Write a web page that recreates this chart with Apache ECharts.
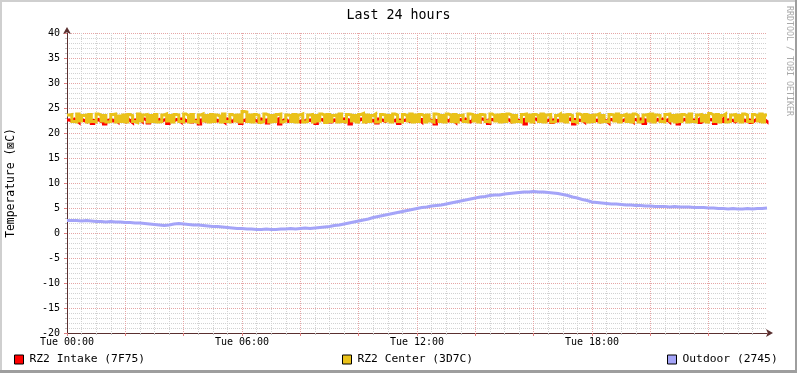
<!DOCTYPE html>
<html>
<head>
<meta charset="utf-8">
<script src="https://cdn.jsdelivr.net/npm/echarts@6/dist/echarts.min.js"></script>
<style>
html,body{margin:0;padding:0;background:#fff;}
#c{width:797px;height:373px;}
</style>
</head>
<body>
<div id="c"></div>
<script>
// RZ2 sensors: 5-minute samples, outdoor: 10-minute samples, 00:00 .. 24:00
const tempStepHours = 1 / 12;
const outdoorStepHours = 1 / 6;
const xTickLabels = ['Tue 00:00', 'Tue 06:00', 'Tue 12:00', 'Tue 18:00'];
const seriesNames = ['RZ2 Intake (7F75)', 'RZ2 Center (3D7C)', 'Outdoor (2745)'];

const intake = [
  22.6,22.4,22.8,22.5,22.1,22.7,22.5,22.3,22.8,22.6,21.9,22.5,
  22.7,22.3,22.6,21.8,22.5,22.8,22.4,22.6,22.2,22.7,22.5,22.3,
  22.8,22.5,22.1,22.6,22.4,22.7,22.3,22.8,22.5,22.0,22.6,22.4,
  22.5,22.7,22.3,22.6,22.8,21.9,22.5,22.4,22.7,22.6,22.2,22.8,
  22.4,22.6,22.8,22.2,22.5,22.7,21.8,22.6,22.4,22.8,22.5,22.3,
  22.7,22.4,22.6,22.5,22.1,22.8,22.6,22.3,22.7,22.4,22.6,21.9,
  22.5,22.8,22.3,22.6,22.7,22.4,22.2,22.8,22.5,22.6,22.0,22.7,
  22.4,22.6,22.8,21.8,22.5,22.7,22.3,22.6,22.4,22.8,22.5,22.2,
  22.6,22.3,22.7,22.5,22.8,22.4,21.9,22.6,22.7,22.3,22.5,22.8,
  22.2,22.6,22.4,22.7,22.5,22.3,22.8,22.6,21.8,22.5,22.7,22.4,
  22.8,22.5,22.2,22.6,22.7,22.4,22.6,22.0,22.8,22.5,22.3,22.7,
  22.5,22.7,22.4,22.8,21.9,22.6,22.5,22.7,22.3,22.6,22.8,22.4,
  22.6,22.2,22.7,22.5,22.8,22.4,22.6,21.8,22.5,22.7,22.3,22.6,
  22.4,22.8,22.5,22.1,22.6,22.7,22.4,22.8,22.5,22.2,22.6,22.7,
  22.5,22.3,22.8,22.6,22.4,21.9,22.7,22.5,22.6,22.8,22.3,22.5,
  22.7,22.6,22.2,22.5,22.8,22.4,22.6,22.7,21.8,22.5,22.6,22.3,
  22.8,22.4,22.6,22.7,22.3,22.5,22.8,22.1,22.6,22.4,22.7,22.5,
  22.3,22.6,22.8,22.4,21.8,22.7,22.5,22.6,22.2,22.8,22.4,22.6,
  22.7,22.5,22.3,22.8,22.6,22.4,22.0,22.7,22.5,22.6,22.8,22.3,
  22.5,22.8,22.4,22.6,22.2,22.7,22.5,22.3,22.8,21.9,22.6,22.4,
  22.6,22.3,22.7,22.5,22.8,22.4,22.6,22.2,22.7,22.5,22.3,21.8,
  22.4,22.7,22.5,22.8,22.3,22.6,22.4,22.7,22.1,22.5,22.8,22.6,
  22.7,22.5,21.9,22.6,22.4,22.8,22.3,22.6,22.7,22.5,22.2,22.6,
  22.5,22.8,22.4,22.7,22.6,22.1,22.5,22.8,22.4,22.6,22.7,22.3,
  22.5
];

const center = [
  23.6,23.7,22.3,22.2,23.8,22.4,23.5,23.6,22.2,23.7,22.3,22.2,
  23.8,23.6,22.4,23.5,22.2,22.3,23.7,23.8,22.2,23.4,22.3,23.6,
  22.2,23.7,23.5,22.3,22.1,23.8,22.4,23.6,23.7,22.2,23.5,22.3,
  23.7,22.2,22.3,23.6,23.8,22.4,23.5,22.2,23.7,23.6,22.3,22.2,
  23.8,23.5,22.2,23.7,22.3,22.1,23.6,23.8,22.4,23.5,22.2,23.7,
  22.3,23.6,23.4,22.2,23.8,22.3,22.2,23.7,23.5,22.4,23.6,22.2,
  24.3,24.2,22.3,23.6,22.2,23.7,23.5,22.1,22.3,23.8,23.6,22.2,
  23.5,22.3,23.7,23.8,22.2,22.4,23.6,23.5,22.3,23.7,22.2,23.6,
  23.8,22.2,22.3,23.6,23.7,22.2,23.5,22.4,23.8,23.6,22.1,23.7,
  22.3,23.5,23.6,22.2,23.8,22.3,22.2,23.7,23.6,22.4,23.5,22.2,
  23.7,23.9,22.2,23.6,22.3,23.5,23.8,22.2,22.3,23.7,23.6,22.4,
  23.5,22.2,23.8,23.6,22.3,22.2,23.7,23.5,22.4,23.8,22.2,23.6,
  22.3,23.7,23.5,22.2,23.6,22.4,22.2,23.8,23.7,22.3,23.5,22.2,
  23.8,23.6,22.3,23.7,22.2,23.5,23.6,22.3,22.2,23.8,23.7,22.4,
  23.5,22.2,23.7,23.6,22.3,22.2,23.8,23.5,22.4,23.6,22.2,23.7,
  22.3,23.8,23.6,22.2,23.5,22.3,22.2,23.7,23.8,22.4,23.6,22.2,
  23.7,23.5,22.3,23.8,22.2,23.6,23.7,22.2,22.3,23.5,23.8,22.4,
  23.6,22.2,23.7,23.5,22.3,22.1,23.8,23.6,22.4,23.7,22.2,23.5,
  22.3,23.6,23.8,22.2,23.5,22.3,22.2,23.7,23.6,22.4,23.8,22.2,
  23.5,23.7,22.3,23.6,22.2,23.8,23.5,22.2,22.3,23.6,23.7,22.4,
  23.8,22.2,23.6,23.5,22.3,22.2,23.7,23.8,22.4,23.5,22.2,23.6,
  22.3,23.7,23.5,22.2,23.8,22.3,22.2,23.6,23.7,22.4,23.5,22.2,
  23.9,23.6,22.3,23.7,22.2,23.5,23.8,22.2,22.3,23.6,23.7,22.4,
  23.5,22.2,23.8,23.6,22.3,22.2,23.7,23.5,22.4,23.8,22.2,23.6,
  23.7
];

const outdoor = [
  2.5,2.5,2.4,2.5,2.4,2.3, 2.3,2.2,2.3,2.2,2.2,2.1,
  2.1,2.0,2.0,1.9,1.8,1.7, 1.6,1.5,1.6,1.8,1.9,1.8,
  1.7,1.6,1.6,1.5,1.4,1.3, 1.3,1.2,1.1,1.0,0.9,0.9,
  0.8,0.8,0.7,0.7,0.8,0.7, 0.7,0.8,0.8,0.9,0.8,0.9,
  1.0,0.9,1.0,1.1,1.2,1.3, 1.5,1.6,1.8,2.0,2.2,2.4,
  2.6,2.8,3.1,3.3,3.5,3.7, 3.9,4.1,4.3,4.5,4.7,4.9,
  5.1,5.2,5.4,5.5,5.6,5.8, 6.0,6.2,6.4,6.6,6.8,7.0,
  7.2,7.3,7.5,7.6,7.6,7.8, 7.9,8.0,8.1,8.2,8.2,8.3,
  8.2,8.2,8.1,8.0,7.9,7.7, 7.5,7.2,7.0,6.7,6.5,6.2,
  6.1,6.0,5.9,5.8,5.8,5.7, 5.6,5.6,5.5,5.5,5.4,5.4,
  5.3,5.3,5.3,5.2,5.3,5.2, 5.2,5.2,5.1,5.1,5.1,5.0,
  5.0,4.9,4.9,4.8,4.9,4.8, 4.8,4.9,4.8,4.9,4.9,5.0,
  5.1
];

const colors = ['#ff0000', '#eac21a', '#a4a4f8'];
const FONT = 'DejaVu Sans Mono';

function toPairs(arr, step) { return arr.map((v, i) => [i * step, v]); }

const chart = echarts.init(document.getElementById('c'), null, {renderer: 'canvas'});

const dotted = [1, 1];
const majorGrid = '#e6a6a6';
const minorGrid = '#d2d2d2';
const axisCol = '#5a3030';

function mkLegend(idx, left) {
  return {
    show: true, left: left, top: 354, orient: 'horizontal',
    data: [seriesNames[idx]], icon: 'rect', itemWidth: 9, itemHeight: 9,
    itemGap: 0, padding: 0, selectedMode: false,
    itemStyle: {borderColor: '#000', borderWidth: 1},
    textStyle: {fontFamily: FONT, fontSize: 11.3, color: '#000', padding: [0, 0, 0, 1]}
  };
}

function lineSeries(idx, data, width) {
  return {
    name: seriesNames[idx], type: 'line', step: 'end', data: data,
    showSymbol: false, symbol: 'none',
    lineStyle: {width: width, color: colors[idx], cap: 'butt', join: 'miter'},
    itemStyle: {color: colors[idx]}
  };
}

chart.setOption({
  animation: false,
  backgroundColor: '#ffffff',
  color: colors,
  title: {
    text: 'Last 24 hours', left: 'center', top: 4,
    textStyle: {fontFamily: FONT, fontSize: 13.3, fontWeight: 'normal', color: '#000'}
  },
  legend: [mkLegend(0, 14), mkLegend(1, 342), mkLegend(2, 667)],
  grid: {left: 67, right: 30, top: 33, bottom: 40, containLabel: false, outerBoundsMode: 'none'},
  xAxis: {
    type: 'value', min: 0, max: 24, interval: 2,
    axisLine: {show: true, onZero: false, lineStyle: {color: axisCol, width: 1}, symbol: ['none', 'arrow'], symbolSize: [6, 7], symbolOffset: [0, 6]},
    axisTick: {show: true, length: 3, inside: false, lineStyle: {color: '#e08080'}},
    minorTick: {show: true, splitNumber: 4, length: 2, lineStyle: {color: '#c0c0c0'}},
    axisLabel: {
      fontFamily: FONT, fontSize: 10, color: '#000', margin: 4,
      showMaxLabel: false,
      formatter: function (v) { return (v % 6 === 0 && v < 24) ? xTickLabels[v / 6] : ''; }
    },
    splitLine: {show: true, showMinLine: false, showMaxLine: false, lineStyle: {color: majorGrid, type: dotted, width: 1}},
    minorSplitLine: {show: true, lineStyle: {color: minorGrid, type: dotted, width: 1}}
  },
  yAxis: {
    type: 'value', min: -20, max: 40, interval: 5,
    name: 'Temperature (⊠C)', nameLocation: 'middle', nameGap: 50, nameRotate: 90,
    nameMoveOverlap: false,
    nameTextStyle: {fontFamily: FONT, fontSize: 11.4, color: '#000'},
    axisLine: {show: true, onZero: false, lineStyle: {color: axisCol, width: 1}, symbol: ['none', 'arrow'], symbolSize: [6, 7], symbolOffset: [0, 6]},
    axisTick: {show: true, length: 3, lineStyle: {color: '#e08080'}},
    minorTick: {show: true, splitNumber: 5, length: 2, lineStyle: {color: '#c0c0c0'}},
    axisLabel: {fontFamily: FONT, fontSize: 10, color: '#000', margin: 7},
    splitLine: {show: true, showMinLine: false, lineStyle: {color: majorGrid, type: dotted, width: 1}},
    minorSplitLine: {show: true, lineStyle: {color: minorGrid, type: dotted, width: 1}}
  },
  series: [
    lineSeries(0, toPairs(intake, tempStepHours), 3),
    lineSeries(1, toPairs(center, tempStepHours), 3),
    lineSeries(2, toPairs(outdoor, outdoorStepHours), 3)
  ],
  graphic: [
    {type: 'rect', shape: {x: 0, y: 0, width: 797, height: 2}, style: {fill: '#cfcfcf'}, silent: true},
    {type: 'rect', shape: {x: 0, y: 0, width: 2, height: 373}, style: {fill: '#cfcfcf'}, silent: true},
    {type: 'rect', shape: {x: 795, y: 0, width: 2, height: 373}, style: {fill: '#9e9e9e'}, silent: true},
    {type: 'rect', shape: {x: 0, y: 370, width: 797, height: 3}, style: {fill: '#9e9e9e'}, silent: true},
    {type: 'text', x: 789, y: 6, rotation: -Math.PI / 2, silent: true,
      style: {text: 'RRDTOOL / TOBI OETIKER', fill: '#a8a8a8', font: '8.3px "DejaVu Sans Mono"', align: 'left', verticalAlign: 'middle'}}
  ]
});
</script>
</body>
</html>
